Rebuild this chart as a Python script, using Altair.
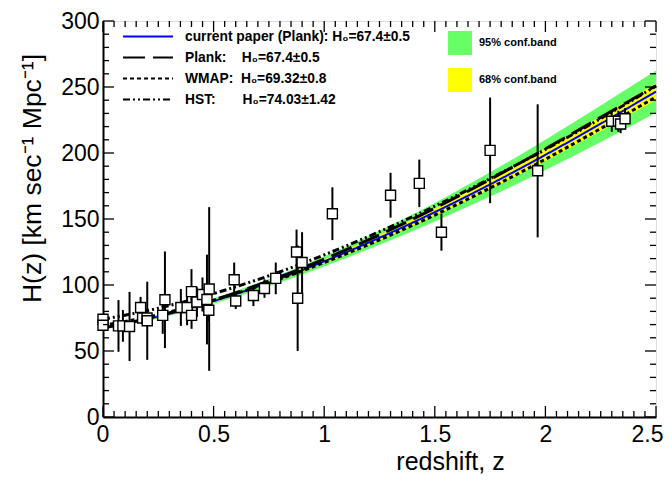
import altair as alt
import pandas as pd
import numpy as np

W, H = 553, 396
FONT = "Liberation Sans"

z_obs = [0.0, 0.0, 0.07, 0.09, 0.12, 0.17, 0.179, 0.199, 0.2, 0.27, 0.28, 0.352,
         0.3802, 0.4, 0.4004, 0.4247, 0.4497, 0.47, 0.4783, 0.48, 0.593, 0.6,
         0.68, 0.73, 0.781, 0.875, 0.88, 0.9, 1.037, 1.3, 1.43, 1.53, 1.75,
         1.965, 2.3, 2.33, 2.34, 2.36]
H_obs = [74.0, 69.5, 69.0, 69.0, 68.6, 83.0, 75.0, 75.0, 72.9, 77.0, 88.8, 83.0,
         83.0, 95.0, 77.0, 87.1, 92.8, 89.0, 80.9, 97.0, 104.0, 87.9,
         92.0, 97.3, 105.0, 125.0, 90.0, 117.0, 154.0, 168.0, 177.0, 140.0, 202.0,
         186.5, 224.0, 224.0, 222.0, 226.0]
err_obs = [1.7, 2.0, 19.6, 12.0, 26.2, 8.0, 4.0, 5.0, 29.6, 14.0, 36.6, 14.0,
           13.5, 17.0, 10.2, 11.2, 12.9, 34.0, 9.0, 62.0, 13.0, 6.1,
           8.0, 7.0, 12.0, 17.0, 40.0, 23.0, 20.0, 17.0, 18.0, 14.0, 40.0,
           50.4, 8.0, 8.0, 7.0, 8.0]

# ---- model curves ----
z_curve = [0.0, 0.25, 0.5, 0.75, 1.0, 1.25, 1.5, 1.75, 2.0, 2.25, 2.5]
H_current = [67.4, 76.1, 87.8, 101.8, 117.9, 135.8, 155.2, 176.2, 198.6, 222.2, 246.5]
H_planck = [67.4, 76.6, 88.6, 103.0, 119.6, 138.0, 158.2, 180.0, 203.2, 227.0, 251.0]
H_wmap = [69.3, 77.5, 88.5, 101.7, 117.0, 134.2, 153.0, 173.5, 195.3, 218.5, 242.5]
H_hst = [74.0, 82.4, 93.5, 107.0, 122.8, 140.4, 159.7, 180.6, 202.7, 226.1, 250.7]

lo95 = [66.4, 74.7, 85.8, 99.0, 114.1, 130.5, 148.2, 167.0, 187.1, 208.4, 230.5]
hi95 = [68.4, 77.5, 89.8, 104.6, 121.7, 141.1, 162.2, 185.4, 210.1, 236.0, 262.5]
lo68 = [67.0, 75.5, 87.0, 100.7, 116.4, 133.7, 152.4, 172.5, 194.0, 216.7, 240.1]
hi68 = [67.8, 76.7, 88.6, 102.9, 119.4, 137.9, 158.0, 179.9, 203.2, 227.7, 252.9]

NB = "\u00a0"
series_names = [
    "current paper (Plank): H\u2080=67.4\u00b10.5",
    "Plank:" + NB * 4 + "H\u2080=67.4\u00b10.5",
    "WMAP:" + NB * 2 + "H\u2080=69.32\u00b10.8",
    "HST:" + NB * 7 + "H\u2080=74.03\u00b11.42",
]
series_colors = ["#0000ff", "#000000", "#000000", "#000000"]
series_dash = [[1, 0], [22, 8], [4, 3], [7, 3, 2, 3, 2, 3]]
band_names = ["95% conf.band", "68% conf.band"]
band_colors = ["#66ff66", "#ffff00"]

x_ticks = [0, 0.5, 1, 1.5, 2, 2.5]
y_ticks = [0, 50, 100, 150, 200, 250, 300]
x_minor = [round(v, 2) for v in np.arange(0, 2.5001, 0.05) if round(v / 0.5, 6) % 1 != 0]
y_minor = [v for v in range(0, 301, 10) if v % 50 != 0]

# ---- tables ----
obs = pd.DataFrame({"z": z_obs, "H": H_obs, "err": err_obs})
obs["lo"] = obs["H"] - obs["err"]
obs["hi"] = obs["H"] + obs["err"]

curves = pd.concat([
    pd.DataFrame({"z": z_curve, "H": vals, "series": name})
    for name, vals in zip(series_names, [H_current, H_planck, H_wmap, H_hst])
])
bands = pd.concat([
    pd.DataFrame({"z": z_curve, "lo": lo95, "hi": hi95, "band": band_names[0]}),
    pd.DataFrame({"z": z_curve, "lo": lo68, "hi": hi68, "band": band_names[1]}),
])

xs = alt.Scale(domain=[0, 2.5], nice=False, zero=False)
ys = alt.Scale(domain=[0, 300], nice=False, zero=False)

x_axis = alt.Axis(values=x_ticks, format="~g", ticks=False, grid=False,
                  labelFlush=True, labelFlushOffset=7,
                  domainColor="black", domainWidth=2, labelFont=FONT, labelFontSize=23,
                  labelColor="black", labelPadding=6, title="redshift, z",
                  titleFont=FONT, titleFontSize=25, titleFontWeight="normal", titleColor="black",
                  titleX=347, titleY=52, titleAlign="center", titleBaseline="alphabetic")
y_axis = alt.Axis(values=y_ticks, format="d", ticks=False, grid=False, labelFlush=False,
                  domainColor="black", domainWidth=2, labelFont=FONT, labelFontSize=23,
                  labelColor="black", labelPadding=4,
                  title="H(z) [km sec\u207b\u00b9 Mpc\u207b\u00b9]",
                  titleFont=FONT, titleFontSize=26.5, titleFontWeight="normal", titleColor="black",
                  titleAngle=270, titleX=-71, titleY=157, titleAlign="center",
                  titleBaseline="middle")


def X(field):
    return alt.X(field, scale=xs, axis=x_axis)


def Y(field):
    return alt.Y(field, scale=ys, axis=y_axis)


band_fill = alt.Fill(
    "band:N",
    scale=alt.Scale(domain=band_names, range=band_colors),
    legend=alt.Legend(
        title=None, orient="none", legendX=345, legendY=10, padding=0,
        symbolType="square", symbolSize=576, symbolStrokeWidth=0, symbolOpacity=1,
        rowPadding=13, labelFont=FONT, labelFontSize=11, labelFontWeight="bold",
        labelColor="black", labelOffset=7,
    ),
)

line_legend = dict(
    title=None, orient="none", legendX=19, legendY=5, padding=0,
    symbolType="stroke", symbolSize=2500, symbolStrokeWidth=2, clipHeight=21,
    rowPadding=0, labelFont=FONT, labelFontSize=13.8, labelFontWeight="bold",
    labelColor="black", labelOffset=11, labelLimit=400,
)
line_color = alt.Color("series:N", scale=alt.Scale(domain=series_names, range=series_colors),
                       legend=alt.Legend(**line_legend))
line_dash = alt.StrokeDash("series:N", scale=alt.Scale(domain=series_names, range=series_dash),
                           legend=alt.Legend(**line_legend))

band95 = alt.Chart(bands[bands["band"] == band_names[0]]).mark_area(
    opacity=1, interpolate="monotone").encode(
    x=X("z:Q"), y=Y("lo:Q"), y2="hi:Q", fill=band_fill)
band68 = alt.Chart(bands[bands["band"] == band_names[1]]).mark_area(
    opacity=1, interpolate="monotone").encode(
    x=X("z:Q"), y=Y("lo:Q"), y2="hi:Q", fill=band_fill)

blue_line = alt.Chart(curves[curves["series"] == series_names[0]]).mark_line(
    strokeWidth=2, interpolate="monotone").encode(
    x=X("z:Q"), y=Y("H:Q"), color=line_color, strokeDash=line_dash)
black_lines = alt.Chart(curves[curves["series"] != series_names[0]]).mark_line(
    strokeWidth=3, interpolate="monotone").encode(
    x=X("z:Q"), y=Y("H:Q"), color=line_color, strokeDash=line_dash, detail="series:N")

errbars = alt.Chart(obs).mark_rule(color="black", strokeWidth=2, clip=True).encode(
    x=X("z:Q"), y=Y("lo:Q"), y2="hi:Q")
squares = alt.Chart(obs).mark_square(size=100, filled=True, fill="white", stroke="black",
                                     strokeWidth=1.4, opacity=1).encode(
    x=X("z:Q"), y=Y("H:Q"))


def yticks(vals, length):
    df = pd.DataFrame({"v": vals})
    left = alt.Chart(df).mark_rule(color="black", strokeWidth=1.3).encode(
        y=Y("v:Q"), x=alt.value(0), x2=alt.value(length))
    right = alt.Chart(df).mark_rule(color="black", strokeWidth=1.3).encode(
        y=Y("v:Q"), x=alt.value(W), x2=alt.value(W - length))
    return [left, right]


def xticks(vals, length):
    df = pd.DataFrame({"v": vals})
    bottom = alt.Chart(df).mark_rule(color="black", strokeWidth=1.3).encode(
        x=X("v:Q"), y=alt.value(H), y2=alt.value(H - length))
    top = alt.Chart(df).mark_rule(color="black", strokeWidth=1.3).encode(
        x=X("v:Q"), y=alt.value(0), y2=alt.value(length))
    return [bottom, top]


tick_layers = (yticks(y_ticks, 11) + yticks(y_minor, 6)
               + xticks(x_ticks, 11) + xticks(x_minor, 6))

chart = alt.layer(
    band95, band68, blue_line, black_lines, errbars, squares, *tick_layers
).resolve_scale(
    color="shared", strokeDash="shared", fill="shared"
).properties(
    width=W, height=H,
    autosize=alt.AutoSizeParams(type="none"),
    padding={"left": 95, "top": 13, "right": 8, "bottom": 58},
).configure_view(
    stroke="black", strokeWidth=2
).configure(background="white")

chart.save("out.html", embed_options={"renderer": "svg", "actions": False})
